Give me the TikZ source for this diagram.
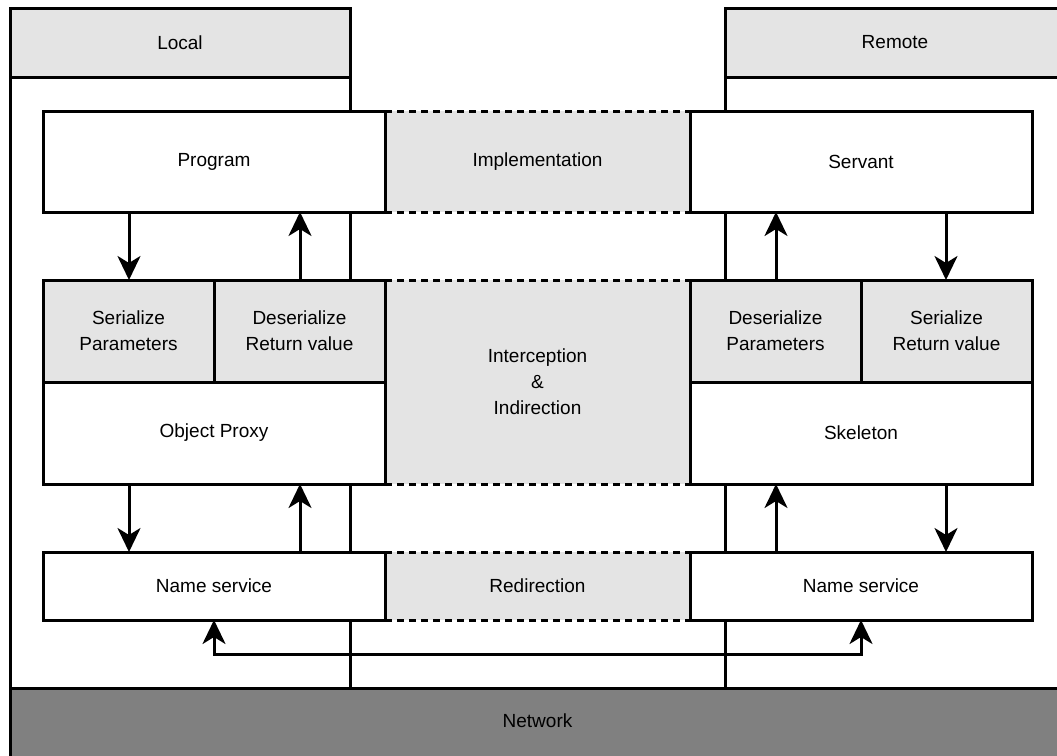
\documentclass[tikz,border=0pt]{standalone}
\usepackage{fontspec}
\setmainfont{Liberation Sans}
\usetikzlibrary{arrows.meta}
\definecolor{panelgray}{RGB}{228,228,228}
\definecolor{netgray}{RGB}{128,128,128}
\tikzset{
  lbl/.style={font=\fontsize{19}{26}\selectfont, align=center, text=black},
  mybox/.style={lbl, draw, line width=3pt, fill=white, inner sep=0pt, outer sep=0pt},
  grayblock/.style={mybox, fill=panelgray},
  midpanel/.style={lbl, fill=panelgray, inner sep=0pt, outer sep=0pt},
  dashedge/.style={line width=3pt, dash pattern=on 7pt off 5pt},
  container/.style={draw, line width=2.5pt},
  arr/.style={line width=3pt, -{Stealth[length=24pt, width=23pt, inset=7pt]}},
  arrboth/.style={line width=3pt, {Stealth[length=24pt, width=23pt, inset=7pt]}-{Stealth[length=24pt, width=23pt, inset=7pt]}},
}
\begin{document}
\begin{tikzpicture}[x=1pt, y=-1pt]
\useasboundingbox (0,0) rectangle (1057,755);

% address spaces
\draw[container, line width=3pt] (10,8) rectangle (350,688);
\draw[container, line width=3pt] (725,8) rectangle (1070,688);
\node[grayblock, minimum width=340pt, minimum height=69pt] (local) at (180,42.5) {Local};
\node[grayblock, minimum width=340pt, minimum height=69pt] (remote) at (895,42.5) {Remote};

% network
\node[mybox, fill=netgray, minimum width=1060pt, minimum height=72pt] (net) at (540,724) {};
\node[lbl] (nettext) at (537.5,721) {Network};

% middle panels (transparency layers)
\node[midpanel, minimum width=305pt, minimum height=101pt] (impl) at (537.5,161.5) {Implementation};
\node[midpanel, minimum width=305pt, minimum height=204pt] (inter) at (537.5,382) {Interception\\\&\\Indirection};
\node[midpanel, minimum width=305pt, minimum height=68pt] (redir) at (537.5,586) {Redirection};
\foreach \p in {impl, inter, redir} {
  \draw[dashedge] (\p.north west) -- (\p.north east);
  \draw[dashedge] (\p.south west) -- (\p.south east);
}

% local side
\node[mybox, minimum width=342pt, minimum height=101pt] (prog) at (214,161.5) {Program};
\node[grayblock, minimum width=171pt, minimum height=102pt] (ser) at (128.5,331) {Serialize\\Parameters};
\node[grayblock, minimum width=171pt, minimum height=102pt] (deser) at (299.5,331) {Deserialize\\Return value};
\node[mybox, minimum width=342pt, minimum height=102pt] (proxy) at (214,433) {Object Proxy};
\node[mybox, minimum width=342pt, minimum height=68pt] (nsl) at (214,586) {Name service};

% remote side
\node[mybox, minimum width=342pt, minimum height=101pt] (serv) at (861,161.5) {Servant};
\node[grayblock, minimum width=171pt, minimum height=102pt] (rdeser) at (775.5,331) {Deserialize\\Parameters};
\node[grayblock, minimum width=171pt, minimum height=102pt] (rser) at (946.5,331) {Serialize\\Return value};
\node[mybox, minimum width=342pt, minimum height=102pt] (skel) at (861,433) {Skeleton};
\node[mybox, minimum width=342pt, minimum height=68pt] (nsr) at (861,586) {Name service};

% local calls
\draw[arr] ([xshift=-85pt]prog.south) -- ([xshift=-85pt]prog.south |- ser.north);
\draw[arr] ([xshift=86pt]prog.south |- deser.north) -- ([xshift=86pt]prog.south);
\draw[arr] ([xshift=-85pt]proxy.south) -- ([xshift=-85pt]proxy.south |- nsl.north);
\draw[arr] ([xshift=86pt]proxy.south |- nsl.north) -- ([xshift=86pt]proxy.south);

% remote calls
\draw[arr] ([xshift=-85pt]serv.south |- rdeser.north) -- ([xshift=-85pt]serv.south);
\draw[arr] ([xshift=85pt]serv.south) -- ([xshift=85pt]serv.south |- rser.north);
\draw[arr] ([xshift=-85pt]skel.south |- nsr.north) -- ([xshift=-85pt]skel.south);
\draw[arr] ([xshift=85pt]skel.south) -- ([xshift=85pt]skel.south |- nsr.north);

% name service link
\coordinate (link) at ([yshift=-34pt]nsl.south);
\draw[arrboth] (nsl.south) -- (link) -| (nsr.south);
\end{tikzpicture}
\end{document}
